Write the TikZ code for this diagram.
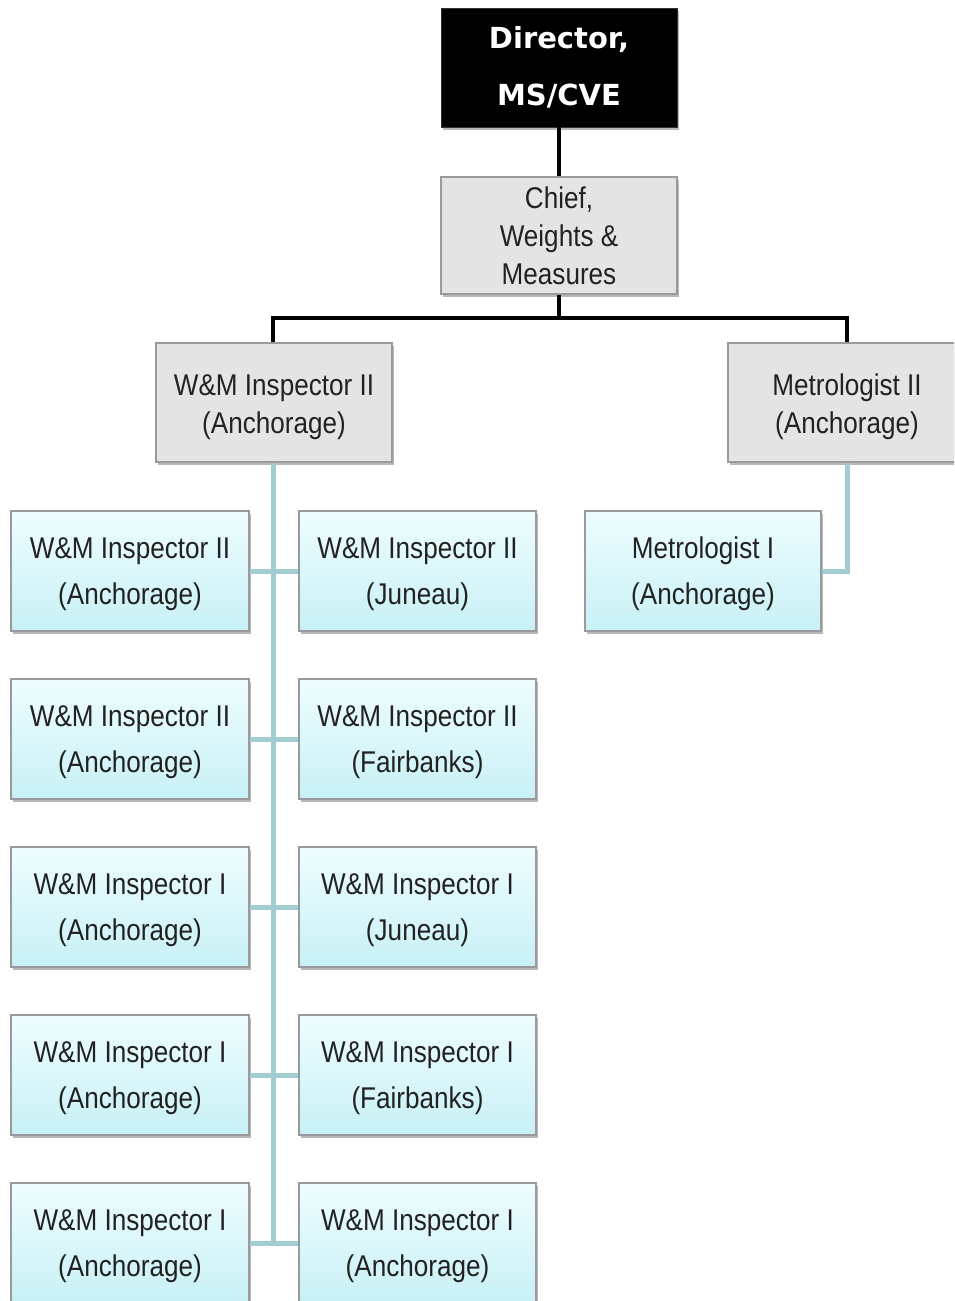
\documentclass[tikz,border=0pt]{standalone}
\usepackage{fontspec}
\setmainfont{Liberation Sans}
\newfontfamily\boxfont{Liberation Sans}[FakeStretch=0.87]
\newfontfamily\dirfont{DejaVu Sans}
\usetikzlibrary{shadows}
\definecolor{boxgray}{HTML}{E4E4E4}
\definecolor{bordergray}{HTML}{9A9A9A}
\definecolor{bluetop}{HTML}{EEFDFE}
\definecolor{bluebot}{HTML}{C8F0F6}
\definecolor{trunk}{HTML}{A2CCD0}
\definecolor{txt}{HTML}{222222}
\tikzset{
  x=1pt,y=-1pt,
  shad/.style={drop shadow={shadow xshift=2pt,shadow yshift=-3pt,fill=black,opacity=0.28}},
  dirbox/.style={shad,draw=black!80,fill=black,text=white,minimum width=236pt,minimum height=119pt,inner sep=0pt,align=center,
     font=\dirfont\bfseries\fontsize{29}{57}\selectfont},
  graybox/.style={shad,draw=bordergray,line width=1.2pt,fill=boxgray,text=txt,minimum height=119pt,inner sep=0pt,align=center,
     font=\boxfont\fontsize{30}{38}\selectfont},
  bluebox/.style={shad,draw=bordergray,line width=1.2pt,top color=bluetop,bottom color=bluebot,text=txt,minimum width=238pt,minimum height=120pt,inner sep=0pt,align=center,
     font=\boxfont\fontsize{30}{46}\selectfont,text height=74pt},
  blackline/.style={line width=4pt,black},
  tealline/.style={line width=5pt,trunk},
}
\begin{document}
\begin{tikzpicture}
\clip (0,0) rectangle (954,1301);
\fill[white] (0,0) rectangle (954,1301);
% top
\node[dirbox] (dir) at (559,67.5) {Director,\\MS/CVE};
\node[graybox,minimum width=236pt,minimum height=117pt] (chief) at (559,235.5) {Chief,\\Weights \&\\Measures};
\node[graybox,minimum width=236pt,text height=68pt] (insp) at (274,402.5) {W\&M Inspector II\\(Anchorage)};
\node[graybox,minimum width=238pt,text height=68pt] (met2) at (847,402.5) {Metrologist II\\(Anchorage)};
% rows
\node[bluebox] (r1l) at (130,571) {W\&M Inspector II\\(Anchorage)};
\node[bluebox,minimum width=237pt] (r1r) at (417.5,571) {W\&M Inspector II\\(Juneau)};
\node[bluebox,minimum width=236pt] (met1) at (703,571) {Metrologist I\\(Anchorage)};
\node[bluebox] (r2l) at (130,739) {W\&M Inspector II\\(Anchorage)};
\node[bluebox,minimum width=237pt] (r2r) at (417.5,739) {W\&M Inspector II\\(Fairbanks)};
\node[bluebox] (r3l) at (130,907) {W\&M Inspector I\\(Anchorage)};
\node[bluebox,minimum width=237pt] (r3r) at (417.5,907) {W\&M Inspector I\\(Juneau)};
\node[bluebox] (r4l) at (130,1075) {W\&M Inspector I\\(Anchorage)};
\node[bluebox,minimum width=237pt] (r4r) at (417.5,1075) {W\&M Inspector I\\(Fairbanks)};
\node[bluebox] (r5l) at (130,1243) {W\&M Inspector I\\(Anchorage)};
\node[bluebox,minimum width=237pt] (r5r) at (417.5,1243) {W\&M Inspector I\\(Anchorage)};
% black connectors
\coordinate (bus) at (559,318);
\draw[blackline] (dir.south) -- (chief.north);
\draw[blackline] (chief.south) -- (bus);
\draw[blackline,line join=miter] (bus) -| ([xshift=-1pt]insp.north);
\draw[blackline,line join=miter] (bus) -| (met2.north);
% teal connectors
\draw[tealline] ([xshift=-1pt]insp.south) -- ([xshift=-1pt]insp.south |- r5l.east);
\foreach \r in {1,...,5}{
  \draw[tealline] (r\r l.east) -- (r\r r.west);
}
\draw[tealline,line join=miter] (met2.south) |- (met1.east);
\end{tikzpicture}
\end{document}
